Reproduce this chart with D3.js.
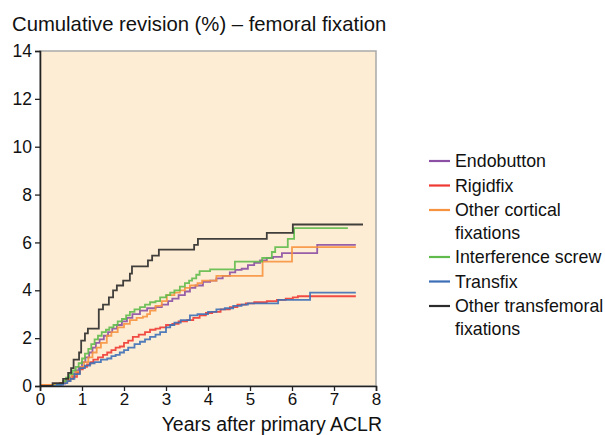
<!DOCTYPE html>
<html>
<head>
<meta charset="utf-8">
<script src="https://cdn.jsdelivr.net/npm/d3@7"></script>
<style>
  body { margin: 0; background: #fff; }
  svg { font-family: "Liberation Sans", Arial, sans-serif; }
</style>
</head>
<body>
<div id="chart"></div>
<script>
// cumulative revision (%) vs years; last point = end of follow-up
const endobutton = [[0,0],[0.35,0.03],[0.5,0.1],[0.6,0.2],[0.68,0.35],[0.76,0.5],[0.84,0.65],[0.92,0.8],[1.0,1.0],[1.08,1.2],[1.17,1.4],[1.25,1.6],[1.33,1.8],[1.42,1.95],[1.52,2.1],[1.62,2.25],[1.72,2.4],[1.83,2.55],[1.95,2.7],[2.07,2.85],[2.2,3.0],[2.38,3.15],[2.55,3.25],[2.75,3.3],[2.9,3.4],[3.05,3.55],[3.15,3.65],[3.3,3.8],[3.45,3.95],[3.57,4.1],[3.7,4.2],[3.88,4.35],[4.05,4.4],[4.2,4.5],[4.35,4.6],[4.52,4.75],[4.65,4.85],[4.8,4.9],[4.95,5.05],[5.1,5.15],[5.24,5.25],[5.4,5.35],[5.55,5.4],[5.76,5.55],[6.6,5.9],[7.52,5.9]];
const rigidfix = [[0,0.05],[0.35,0.08],[0.48,0.13],[0.6,0.2],[0.7,0.3],[0.79,0.38],[0.88,0.55],[0.95,0.7],[1.02,0.8],[1.12,0.9],[1.2,1.0],[1.27,1.1],[1.38,1.2],[1.5,1.3],[1.6,1.4],[1.7,1.5],[1.8,1.6],[1.9,1.65],[2.0,1.8],[2.1,1.9],[2.21,2.05],[2.35,2.15],[2.5,2.25],[2.62,2.35],[2.75,2.4],[2.86,2.45],[3.0,2.55],[3.15,2.6],[3.3,2.7],[3.5,2.75],[3.65,2.85],[3.8,2.95],[3.95,3.05],[4.1,3.1],[4.3,3.2],[4.52,3.3],[4.7,3.4],[4.9,3.45],[5.1,3.5],[5.4,3.55],[5.64,3.6],[5.85,3.65],[6.02,3.7],[6.14,3.75],[7.52,3.75]];
const otherCortical = [[0,0.05],[0.4,0.08],[0.55,0.15],[0.65,0.3],[0.75,0.45],[0.85,0.6],[0.95,0.8],[1.05,1.0],[1.15,1.2],[1.25,1.4],[1.35,1.6],[1.45,1.8],[1.59,2.1],[1.7,2.25],[1.85,2.45],[2.0,2.6],[2.14,2.75],[2.3,2.85],[2.45,2.9],[2.55,3.0],[2.62,3.15],[2.75,3.35],[2.9,3.55],[3.02,3.8],[3.2,3.9],[3.33,4.0],[3.45,4.1],[3.57,4.2],[3.75,4.3],[3.86,4.4],[4.2,4.6],[5.3,5.2],[6.0,5.8],[7.52,5.8]];
const interference = [[0,0],[0.3,0.03],[0.45,0.1],[0.55,0.2],[0.62,0.35],[0.7,0.5],[0.78,0.65],[0.85,0.8],[0.92,0.95],[1.0,1.15],[1.07,1.35],[1.15,1.55],[1.22,1.75],[1.3,1.95],[1.38,2.1],[1.47,2.25],[1.57,2.35],[1.65,2.45],[1.75,2.55],[1.85,2.7],[1.95,2.8],[2.05,2.95],[2.14,3.1],[2.25,3.2],[2.38,3.3],[2.5,3.4],[2.62,3.5],[2.75,3.55],[2.86,3.7],[3.0,3.8],[3.1,3.9],[3.2,4.0],[3.33,4.15],[3.45,4.3],[3.55,4.4],[3.62,4.5],[3.72,4.65],[3.8,4.8],[4.05,4.87],[4.64,5.2],[5.29,5.35],[5.52,5.6],[5.6,5.8],[5.9,6.15],[6.05,6.6],[7.33,6.6]];
const transfix = [[0,0],[0.4,0.05],[0.55,0.12],[0.65,0.2],[0.73,0.3],[0.82,0.5],[0.95,0.75],[1.07,0.85],[1.19,0.95],[1.3,1.0],[1.45,1.1],[1.6,1.15],[1.7,1.25],[1.8,1.3],[1.9,1.4],[2.0,1.5],[2.1,1.6],[2.25,1.75],[2.38,1.85],[2.5,1.95],[2.62,2.05],[2.75,2.15],[2.86,2.25],[3.0,2.45],[3.1,2.55],[3.2,2.65],[3.35,2.75],[3.57,2.95],[3.75,3.0],[4.0,3.1],[4.2,3.2],[4.4,3.25],[4.6,3.35],[4.8,3.4],[4.95,3.45],[5.67,3.6],[6.43,3.9],[7.52,3.9]];
const otherTransfemoral = [[0,0],[0.3,0.12],[0.55,0.3],[0.67,0.55],[0.74,0.75],[0.8,1.1],[0.93,1.4],[0.98,1.9],[1.07,2.2],[1.14,2.4],[1.4,3.2],[1.5,3.4],[1.64,3.7],[1.74,4.0],[1.83,4.2],[1.98,4.4],[2.14,4.7],[2.19,5.0],[2.57,5.25],[2.67,5.45],[2.83,5.7],[3.67,5.9],[3.76,6.15],[5.4,6.4],[6.02,6.75],[7.69,6.75]];

const seriesNames = ["Endobutton", "Rigidfix", "Other cortical fixations", "Interference screw", "Transfix", "Other transfemoral fixations"];
const seriesData = [endobutton, rigidfix, otherCortical, interference, transfix, otherTransfemoral];
const seriesColors = ["#8b4fa3", "#ee3a33", "#f7923f", "#61bb4c", "#3d6fb6", "#2b2b2b"];
const legendLines = [["Endobutton"], ["Rigidfix"], ["Other cortical", "fixations"], ["Interference screw"], ["Transfix"], ["Other transfemoral", "fixations"]];
const xTicks = [0, 1, 2, 3, 4, 5, 6, 7, 8];
const yTicks = [0, 2, 4, 6, 8, 10, 12, 14];

var width = 605, height = 435;
var margin = {left: 40, top: 51, right: 229, bottom: 49};

var x = d3.scaleLinear().domain([0, 8]).range([margin.left, width - margin.right]);
var y = d3.scaleLinear().domain([0, 14]).range([height - margin.bottom, margin.top]);

var svg = d3.select('#chart')
            .append('svg')
            .attr('width', width)
            .attr('height', height);

// plot background + grey frame top/right
svg.append('rect')
   .attr('x', x(0)).attr('y', y(14))
   .attr('width', x(8) - x(0)).attr('height', y(0) - y(14))
   .attr('fill', '#fdedd4')
   .attr('stroke', '#a9a9a9')
   .attr('stroke-width', 1.5);

svg.append('text')
   .attr('x', 12).attr('y', 31)
   .attr('font-size', 20.3)
   .attr('fill', '#111')
   .text('Cumulative revision (%) \u2013 femoral fixation');

var line = d3.line()
             .curve(d3.curveStepAfter)
             .x(d => x(d[0]))
             .y(d => y(d[1]));

svg.append('g')
   .selectAll('path')
   .data(seriesData)
   .enter()
   .append('path')
   .attr('d', line)
   .attr('fill', 'none')
   .attr('stroke', (d, i) => seriesColors[i])
   .attr('stroke-width', 1.8)
   .attr('stroke-opacity', 0.9);

var yAxis = svg.append('g')
   .attr('transform', 'translate(' + x(0) + ',0)')
   .call(d3.axisLeft(y).tickValues(yTicks).tickSize(5).tickPadding(3));
var xAxis = svg.append('g')
   .attr('transform', 'translate(0,' + y(0) + ')')
   .call(d3.axisBottom(x).tickValues(xTicks).tickSize(5).tickPadding(2));

[yAxis, xAxis].forEach(function(a) {
  a.selectAll('text').attr('font-size', 17.5).attr('fill', '#111')
   .attr('font-family', '"Liberation Sans", Arial, sans-serif');
  a.selectAll('line').attr('stroke', '#222').attr('stroke-width', 1.3);
  a.select('.domain').attr('stroke', '#222').attr('stroke-width', 1.6);
});
xAxis.selectAll('text').attr('font-size', 17);

svg.append('text')
   .attr('x', 382).attr('y', 430.5)
   .attr('text-anchor', 'end')
   .attr('font-size', 19.5)
   .attr('fill', '#111')
   .text('Years after primary ACLR');

// legend
var legY = 161;
var leg = svg.append('g');
legendLines.forEach(function(lines, i) {
  leg.append('line')
     .attr('x1', 429).attr('x2', 450)
     .attr('y1', legY).attr('y2', legY)
     .attr('stroke', seriesColors[i])
     .attr('stroke-width', 2.2);
  lines.forEach(function(t, j) {
    leg.append('text')
       .attr('x', 455).attr('y', legY + j * 22.5)
       .attr('dy', '0.35em')
       .attr('font-size', 17.8)
       .attr('fill', '#111')
       .text(t);
  });
  legY += lines.length * 22.5 + 2;
});
</script>
</body>
</html>
